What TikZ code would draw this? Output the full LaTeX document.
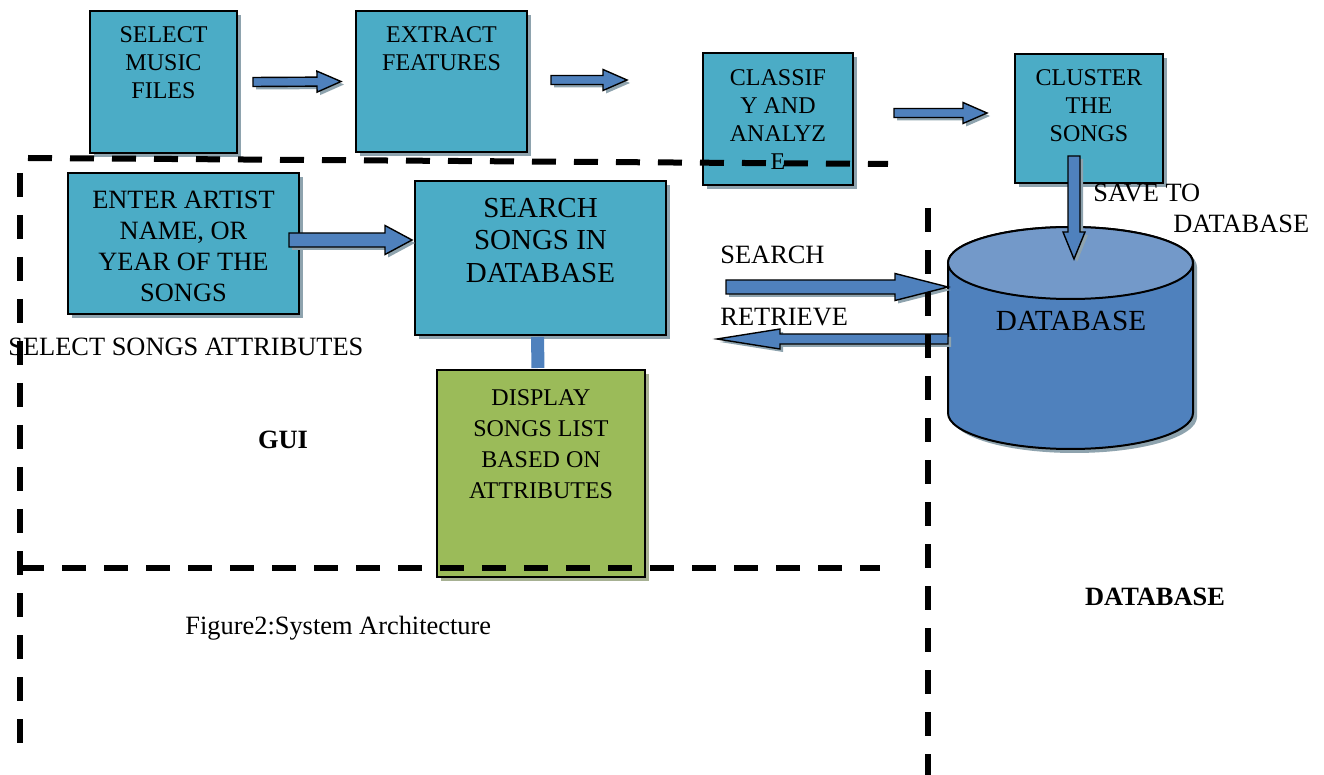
\documentclass[tikz,border=0pt]{standalone}
\usepackage{fontspec}
\setmainfont{Liberation Serif}
\usetikzlibrary{calc,positioning,shadows}
\definecolor{boxteal}{HTML}{4BACC6}
\definecolor{boxgreen}{HTML}{9BBB59}
\definecolor{arrowblue}{HTML}{4F81BD}
\definecolor{dbtop}{HTML}{7399C9}
\definecolor{shadeblue}{HTML}{8EA3AE}
\definecolor{shadegreen}{HTML}{A7B193}

% start, end, shaft half width, head half width, head length
\newcommand{\blockarrow}[5]{%
  \path (#1) coordinate (ba-s) (#2) coordinate (ba-e);
  \coordinate (ba-h) at ($(ba-e)!#5!(ba-s)$);
  \filldraw[arrowbody] ($(ba-s)!#3!90:(ba-e)$) -- ($(ba-h)!#3!90:(ba-e)$)
    -- ($(ba-h)!#4!90:(ba-e)$) -- (ba-e) -- ($(ba-h)!#4!-90:(ba-e)$)
    -- ($(ba-h)!#3!-90:(ba-e)$) -- ($(ba-s)!#3!-90:(ba-e)$) -- cycle;
}

\begin{document}
\begin{tikzpicture}[x=0.5pt,y=-0.5pt]
    \tikzstyle{every node}=[font=\fontsize{13.2}{15.5}\selectfont, inner sep=0pt]
    \tikzstyle{box}=[draw, line width=1pt, fill=boxteal,
      drop shadow={shadow xshift=2pt,shadow yshift=-2pt,opacity=1,fill=shadeblue}]
    \tikzstyle{boxtext}=[align=center, font=\fontsize{12}{14}\selectfont]
    \tikzstyle{arrowbody}=[fill=arrowblue, draw=black, line width=0.7pt,
      drop shadow={shadow xshift=1.5pt,shadow yshift=-1.5pt,opacity=1,fill=shadeblue}]
    \tikzstyle{regionline}=[line width=3pt, dash pattern=on 12pt off 9pt]
    \def\rx{61.25pt}
    \def\ry{18pt}
    \useasboundingbox (0,0) rectangle (1324,775);

    % database cylinder
    \coordinate (cyl) at (1070.5,263);
    \filldraw[fill=arrowblue, line width=1pt,
      drop shadow={shadow xshift=2pt,shadow yshift=-2pt,opacity=1,fill=shadeblue}]
      (948,263) -- (948,413) arc[start angle=180,end angle=360,x radius=\rx,y radius=\ry]
      -- (1193,263) arc[start angle=0,end angle=180,x radius=\rx,y radius=\ry] -- cycle;
    \filldraw[fill=dbtop, line width=1pt] (cyl) ellipse[x radius=\rx,y radius=\ry];
    \node (dblabel) [font=\fontsize{14.6}{16}\selectfont] at (1071,321) {DATABASE};

    % top row
    \node (sel) [box, minimum width=73.5pt, minimum height=71pt] at (163.5,82) {};
    \node (sel-t) [boxtext, below=8pt of sel.north] {SELECT\\MUSIC\\FILES};
    \node (ext) [box, minimum width=85.5pt, minimum height=70.5pt] at (441.5,81.5) {};
    \node (ext-t) [boxtext, below=8pt of ext.north] {EXTRACT\\FEATURES};
    \node (cls) [box, minimum width=75pt, minimum height=66pt] at (778,119) {};
    \node (cls-t) [boxtext, below=8.5pt of cls.north] {CLASSIF\\Y AND\\ANALYZ\\E};
    \node (clu) [box, minimum width=74pt, minimum height=64.5pt] at (1089,118.5) {};
    \node (clu-t) [boxtext, below=8pt of clu.north] {CLUSTER\\THE\\SONGS};

    % gui
    \node (ent) [box, minimum width=115.5pt, minimum height=70.5pt] at (183.5,243.5) {};
    \node (ent-t) [boxtext, font=\fontsize{13.2}{15.5}\selectfont, below=9.25pt of ent.north]
      {ENTER ARTIST\\NAME, OR\\YEAR OF THE\\SONGS};
    \node (srch) [box, minimum width=125.5pt, minimum height=77pt] at (540.5,258) {};
    \node (srch-t) [boxtext, font=\fontsize{14.5}{16.3}\selectfont, below=8.75pt of srch.north]
      {SEARCH\\SONGS IN\\DATABASE};
    \node (disp) [box, fill=boxgreen, minimum width=104pt, minimum height=103.5pt,
      drop shadow={shadow xshift=2pt,shadow yshift=-2pt,opacity=1,fill=shadegreen}] at (541,473.5) {};
    \node (disp-t) [boxtext, font=\fontsize{12}{15.5}\selectfont, below=10pt of disp.north]
      {DISPLAY\\SONGS LIST\\BASED ON\\ATTRIBUTES};
    \draw[line width=6.5pt, arrowblue, shorten <=0.5pt, shorten >=0.5pt]
      ([xshift=-1.5pt]srch.south) -- ([xshift=-1.5pt]disp.north);

    % arrows
    \blockarrow{[xshift=7.5pt]sel.east}{[xshift=-7pt]ext.west}{2.25pt}{5.25pt}{12pt}
    \blockarrow{$(ext.east)+(23,-1.5)$}{$(cls.west |- ext.east)+(-75,-1.5)$}{2.25pt}{5.25pt}{12pt}
    \blockarrow{$(cls.east)+(40,-6)$}{$(clu.west |- cls.east)+(-27,-6)$}{2.25pt}{5.25pt}{12pt}
    \blockarrow{$(ent.east)+(-11,-3.5)$}{$(srch.west |- ent.east)+(-2,-3.5)$}{3.5pt}{7.25pt}{13.5pt}
    \blockarrow{$(srch.east)+(59,29)$}{$(cyl)+(-122.5,24)$}{3.5pt}{6.75pt}{26.5pt}
    \blockarrow{$(cyl)+(-122.5,76)$}{$(srch.east)+(50,81)$}{2.5pt}{5pt}{31.5pt}
    \blockarrow{$(clu.south)+(-15,-28)$}{$(cyl)+(3.5,-4)$}{3pt}{5.5pt}{13.5pt}

    % labels
    \node (srchlbl) [anchor=west] at (720,255) {SEARCH};
    \node (retlbl) [anchor=west] at (720,317) {RETRIEVE};
    \node (savelbl) [anchor=west, align=left] at (1093,208.5) {SAVE TO\\\hspace*{40pt}DATABASE};
    \node (selattr) [anchor=west] at (8,347) {SELECT SONGS ATTRIBUTES};
    \node (gui) at (283,440) {\textbf{GUI}};
    \node (dbzone) at (1155,597) {\textbf{DATABASE}};
    \node (caption) [anchor=west] at (185,628) {Figure2:System Architecture};

    % regions
    \draw[regionline] (28,158) -- (888,164);
    \draw[regionline] (20,173) -- (20,745);
    \draw[regionline] (20,568) -- (880,568);
    \draw[regionline] (928,208) -- (928,775);
\end{tikzpicture}
\end{document}
